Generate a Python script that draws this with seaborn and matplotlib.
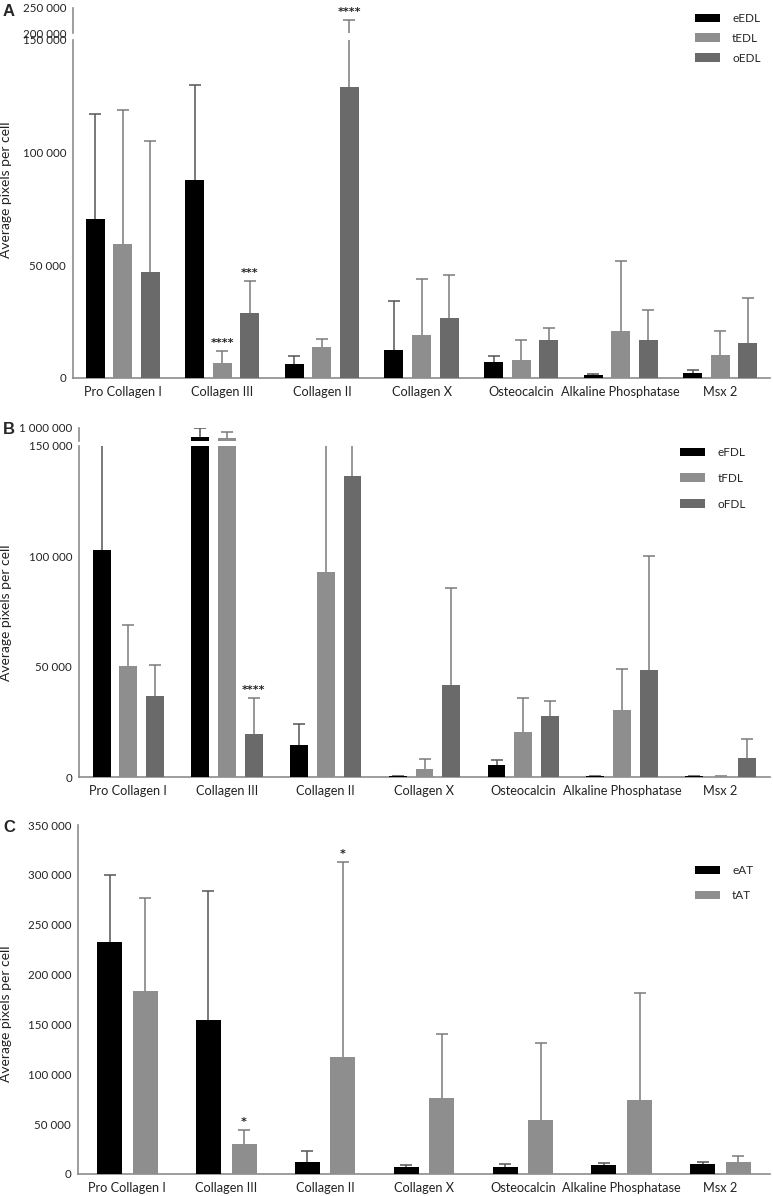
import numpy as np
import pandas as pd
import matplotlib
matplotlib.use("Agg")
import matplotlib.pyplot as plt
import seaborn as sns
from matplotlib.ticker import FuncFormatter

# ---------------------------------------------------------
# DATA (means and SD)
# ---------------------------------------------------------

genes = ["Pro Collagen I", "Collagen III", "Collagen II", "Collagen X",
         "Osteocalcin", "Alkaline Phosphatase", "Msx 2"]

# panel A - EDL
edl_groups = ["eEDL", "tEDL", "oEDL"]
eEDL_mean = [70500, 88000, 6200, 12500, 7000, 1300, 2100]
eEDL_sd = [46500, 42000, 3600, 21500, 2800, 600, 1400]
tEDL_mean = [59500, 6500, 13600, 19000, 7800, 21000, 10000]
tEDL_sd = [59500, 5500, 3900, 25000, 9200, 31000, 11000]
oEDL_mean = [47000, 29000, 129000, 26500, 17000, 17000, 15400]
oEDL_sd = [58000, 14000, 97000, 19000, 5000, 13000, 20100]
edl_stars = {("Collagen III", "tEDL"): "****", ("Collagen III", "oEDL"): "***",
             ("Collagen II", "oEDL"): "****"}

# panel B - FDL
fdl_groups = ["eFDL", "tFDL", "oFDL"]
eFDL_mean = [103000, 520000, 14300, 300, 5300, 300, 300]
eFDL_sd = [67000, 480000, 9500, 100, 2200, 200, 100]
tFDL_mean = [50400, 480000, 93000, 3500, 20500, 30300, 200]
tFDL_sd = [18600, 320000, 59000, 4600, 15400, 18600, 200]
oFDL_mean = [36500, 19300, 136300, 41500, 27600, 48600, 8400]
oFDL_sd = [14300, 16400, 16700, 44300, 6800, 51400, 8900]
fdl_stars = {("Collagen III", "oFDL"): "****"}

# panel C - AT
at_groups = ["eAT", "tAT"]
eAT_mean = [233000, 154000, 12000, 7500, 7500, 9000, 10500]
eAT_sd = [67000, 130000, 11000, 1500, 2500, 2500, 2000]
tAT_mean = [184000, 30500, 117000, 76000, 54000, 74000, 12000]
tAT_sd = [93000, 13500, 196000, 64000, 77000, 108000, 6500]
at_stars = {("Collagen III", "tAT"): "*", ("Collagen II", "tAT"): "*"}

# ---------------------------------------------------------
# STYLE
# ---------------------------------------------------------

sns.set_style("white")
plt.rcParams["font.family"] = ["Lato", "DejaVu Sans"]

W, H = 773, 1196
fig = plt.figure(figsize=(W / 100, H / 100), dpi=100)

spine_col = "#8c8c8c"
colors3 = ["#000000", "#8e8e8e", "#6a6a6a"]
colors2 = ["#000000", "#8e8e8e"]


def box(x0, x1, y0, y1):
    # pixel box -> figure fraction
    return [x0 / W, 1 - y1 / H, (x1 - x0) / W, (y1 - y0) / H]


def thousands(v, pos):
    return f"{int(round(v)):,}".replace(",", " ")


def make_df(groups, means, sds):
    rows = []
    for g, m, s in zip(groups, means, sds):
        for gene, mv, sv in zip(genes, m, s):
            rows.append({"gene": gene, "group": g, "mean": mv, "sd": sv})
    return pd.DataFrame(rows)


def style_axis(ax, bottom=True):
    for s in ["top", "right"]:
        ax.spines[s].set_visible(False)
    ax.spines["left"].set_color(spine_col)
    ax.spines["left"].set_linewidth(1.2)
    ax.spines["bottom"].set_color(spine_col)
    ax.spines["bottom"].set_linewidth(1.2)
    ax.spines["bottom"].set_visible(bottom)
    ax.tick_params(axis="y", direction="out", length=4, width=1.2,
                   color=spine_col, labelsize=8.3, labelcolor="#222222", pad=1)
    ax.tick_params(axis="x", direction="out", length=4 if bottom else 0, width=1.2,
                   color=spine_col, labelsize=9.2, labelcolor="#222222", pad=2)
    ax.yaxis.set_major_formatter(FuncFormatter(thousands))
    ax.set_xlabel("")
    ax.set_ylabel("")


def draw_bars(ax, df, groups, palette, width, gap, legend):
    sns.barplot(data=df, x="gene", y="mean", hue="group", order=genes,
                hue_order=groups, palette=palette, width=width, gap=gap,
                errorbar=None, linewidth=0, legend=legend, ax=ax, zorder=3)
    tops = {}
    for g, cont in zip(groups, ax.containers):
        sub = df[df["group"] == g].set_index("gene").loc[genes]
        for bar, gene in zip(cont, genes):
            x = bar.get_x() + bar.get_width() / 2
            m = sub.loc[gene, "mean"]
            s = sub.loc[gene, "sd"]
            tops[(gene, g)] = (x, m + s)
            ec = "#555555" if g == groups[0] else "#7a7a7a"
            _, caps, _ = ax.errorbar([x], [m], yerr=[[0], [s]], fmt="none",
                                     ecolor=ec, elinewidth=1.1, capsize=4,
                                     capthick=1.1, zorder=2)
            # one-sided SD bar: hide the cap at the bar top
            caps[0].set_visible(False)
    return tops


def panel(groups, means, sds, palette, width, gap, main_box, ylim, yticks,
          top_box=None, top_ylim=None, top_ticks=None, stars=None,
          letter=None, letter_y=0, legend_xy=None, legend_space=1.0, label_y=0.5):
    df = make_df(groups, means, sds)
    ax = fig.add_axes(box(*main_box))
    ax.set_ylim(*ylim)
    tops = draw_bars(ax, df, groups, palette, width, gap, legend=True)
    ax.set_ylim(*ylim)
    ax.set_xlim(-0.5, len(genes) - 0.5)
    ax.set_yticks(yticks)
    style_axis(ax)

    axt = None
    if top_box is not None:
        axt = fig.add_axes(box(*top_box))
        axt.patch.set_visible(False)
        axt.set_ylim(*top_ylim)
        draw_bars(axt, df, groups, palette, width, gap, legend=False)
        axt.set_ylim(*top_ylim)
        axt.set_xlim(-0.5, len(genes) - 0.5)
        axt.set_yticks(top_ticks)
        style_axis(axt, bottom=False)
        axt.set_xticks([])

    # significance stars
    if stars:
        for key, txt in stars.items():
            x, top = tops[key]
            target = axt if (axt is not None and top > ylim[1]) else ax
            target.annotate(txt, (x, top), xytext=(0, 2), textcoords="offset points",
                            ha="center", va="bottom", fontsize=8, fontweight="bold",
                            family="DejaVu Sans", color="#222222", annotation_clip=False)

    # legend
    handles, labels = ax.get_legend_handles_labels()
    leg = ax.legend(handles, labels, loc="upper left", frameon=False,
                    bbox_to_anchor=(legend_xy[0] / W, 1 - legend_xy[1] / H),
                    bbox_transform=fig.transFigure, borderpad=0, borderaxespad=0,
                    handlelength=2.15, handleheight=0.75, handletextpad=1.0,
                    labelspacing=legend_space, fontsize=8.5)
    leg.set_zorder(10)

    ax.set_ylabel("Average pixels per cell", fontsize=10, color="#222222")
    ax.yaxis.set_label_coords(-(main_box[0] - 12) / (main_box[1] - main_box[0]), label_y)

    fig.text(3 / W, 1 - letter_y / H, letter, fontsize=12, fontweight="bold",
             family="Liberation Sans", ha="left", va="center")
    return ax


# =========================================================
# PANEL A
# =========================================================
panel(edl_groups, [eEDL_mean, tEDL_mean, oEDL_mean], [eEDL_sd, tEDL_sd, oEDL_sd],
      colors3, 0.83, 0.31,
      main_box=(73, 770, 40, 378), ylim=(0, 150000), yticks=[0, 50000, 100000, 150000],
      top_box=(73, 770, 8, 33), top_ylim=(200000, 250000), top_ticks=[200000, 250000],
      stars=edl_stars, letter="A", letter_y=11, legend_xy=(695, 13),
      legend_space=0.75, label_y=0.556)

# =========================================================
# PANEL B
# =========================================================
panel(fdl_groups, [eFDL_mean, tFDL_mean, oFDL_mean], [eFDL_sd, tFDL_sd, oFDL_sd],
      colors3, 0.81, 0.33,
      main_box=(79, 770, 446, 777), ylim=(0, 150000), yticks=[0, 50000, 100000, 150000],
      top_box=(79, 770, 428, 441), top_ylim=(300000, 1000000), top_ticks=[1000000],
      stars=fdl_stars, letter="B", letter_y=430, legend_xy=(680, 447),
      legend_space=1.25, label_y=0.495)

# =========================================================
# PANEL C
# =========================================================
panel(at_groups, [eAT_mean, tAT_mean], [eAT_sd, tAT_sd],
      colors2, 0.72, 0.3,
      main_box=(78, 770, 825, 1174), ylim=(0, 350000),
      yticks=[0, 50000, 100000, 150000, 200000, 250000, 300000, 350000],
      stars=at_stars, letter="C", letter_y=828, legend_xy=(695, 865),
      legend_space=1.2, label_y=0.46)

fig.savefig("out.png", dpi=100)
